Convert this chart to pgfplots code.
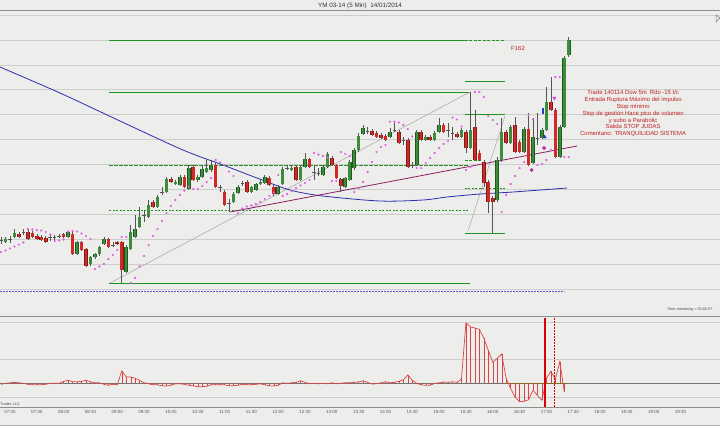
\documentclass[border=0pt]{standalone}
\usepackage{pgfplots}
\pgfplotsset{compat=1.18}
\usepackage{pgfplotstable}
\usepackage{fontspec}
\setmainfont{Liberation Sans}

\definecolor{bg}{RGB}{237,237,235}
\definecolor{gridc}{RGB}{206,206,204}
\definecolor{upfill}{RGB}{60,140,60}
\definecolor{upline}{RGB}{30,90,30}
\definecolor{dnfill}{RGB}{210,40,40}
\definecolor{dnline}{RGB}{130,25,25}
\definecolor{wick}{RGB}{85,85,85}
\definecolor{sar}{RGB}{225,95,225}
\definecolor{lvl}{RGB}{35,145,35}
\definecolor{ma}{RGB}{45,45,175}
\definecolor{trend}{RGB}{140,30,100}
\definecolor{note}{RGB}{190,35,35}
\definecolor{osc}{RGB}{215,70,70}

% bars: i = 5-min bars since 07:00, prices (screen rows)
\pgfplotstableread{
i o h l c
-1 242 237 243 239
1 237 229 238 233
13 237 231 238 232
15 254 241 255 242
18 264 256 266 257
19 257 253 259 254
20 254 246 256 247
21 244 237 245 239
26 272 245 273 247
27 249 225 250 232
28 237 215 238 229
29 227 207 228 217
31 217 200 218 205
33 207 195 208 197
35 192 177 193 179
37 184 180 185 182
38 185 175 186 177
40 189 165 190 168
42 180 175 182 177
43 177 165 178 169
44 172 160 173 168
45 170 160 172 165
50 202 192 203 194
51 193 185 194 187
54 192 186 193 187
55 190 183 191 184
56 184 180 185 182
57 183 175 184 177
60 194 185 195 187
61 184 167 185 169
63 170 166 171 168
65 180 165 181 167
66 167 153 168 159
70 175 165 176 167
71 167 152 168 154
75 187 177 188 178
76 180 160 181 162
77 168 148 170 150
78 150 133 152 136
79 134 125 135 128
85 137 128 138 132
91 165 130 166 132
93 140 135 141 137
95 140 131 141 133
96 132 118 133 125
101 137 128 138 130
103 148 92 149 130
109 200 157 202 160
110 160 118 162 132
112 143 125 144 127
115 152 127 153 129
117 163 118 164 137
119 138 128 139 130
120 130 87 131 102
123 157 125 158 127
124 127 56 128 58
125 55 37 57 40
}\upbars

\pgfplotstableread{
i o h l c
2 234 232 238 237
4 232 230 240 239
5 233 231 238 237
6 236 234 240 239
7 237 235 241 240
8 238 236 243 242
12 234 233 238 237
14 234 232 255 254
16 242 241 251 250
17 249 248 267 266
22 239 238 248 247
24 242 241 245 243.5
25 242 241 283 270
32 202 200 208 207
36 179 177 183 182
39 177 175 188 187
41 167 165 181 180
46 165 163 188 187
48 192 190 206 205
53 182 180 193 192
58 178 176 186 185
59 187 185 196 194
64 167 166 181 180
67 159 158 168 167
72 158 156 166 165
73 165 164 179 178
74 179 178 192 186
81 131 129 136 135
82 133 131 138 137
83 135 133 139 138
84 136 134 141 140
87 132 130 144 143
89 140 138 168 167
92 132 130 141 140
94 137 135 141 140
97 125 123 133 132
100 134 132 138 137
102 132 130 153 148
104 127 110 161 160
105 153 150 161 160
106 162 160 187 183
107 182 180 213 202
108 198 196 233 202
111 132 130 144 143
113 125 117 153 152
114 142 140 153 152
116 129 113 166 165
121 102 77 111 110
122 110 108 158 157
}\dnbars

\pgfplotstableread{
i o h l
-2 240.5 237 244
0 239 236 243
3 232 229 235
9 237 234 241
10 237 235 241
11 236 234 238
23 245 242 247
30 215 210 222
34 192 187 195
47 187 185 192
49 203 199 212
52 183 181 186
62 168 166 170
68 172 165 180
69 173 168 176
80 131 127 134
86 130 122 132
88 140 137 145
90 165 162 168
98 130 123 137
99 133 127 140
118 138 113 145
}\dojis

% parabolic SAR
\pgfplotstableread{
i y
-2 252
-1 250.5
0 248.5
1 246.5
2 244.5
3 242.5
4 229
5 229.5
6 230
7 230.5
8 232
9 234.5
10 241
11 240.5
12 239.5
13 231.5
14 231
15 231.5
16 233.5
17 236
18 239
19 269
20 266.5
21 264
22 259
23 255
24 250
25 237
26 237
27 283
28 278
29 266.5
30 256
31 245
32 236
33 229
34 221
35 213
36 206
37 200
38 195
39 190.5
40 186.5
41 189
42 189
43 186
44 182
45 178
46 160
47 162.5
48 165
49 171.5
50 176
51 213
52 208.5
53 206.5
54 205.5
55 204
56 202
57 199
58 196
59 192.5
60 175
61 196
62 194
63 191
64 188
65 185.5
66 183
67 180
68 153
69 154.5
70 156
71 157.5
72 181
73 181
74 152
75 154
76 156
77 192
78 188
79 182
80 172
81 162
82 152
83 147
84 145
85 121.7
86 121.7
87 122.5
88 125
89 129
90 136.5
91 168
92 168
93 163
94 158
95 153
96 148
97 144
98 141
99 117.5
100 119.5
101 126.5
102 170
103 167
104 92
105 92
106 97
107 116
108 120
109 124
110 212
111 195
112 184
113 176
114 168
115 162
116 115
117 119.5
118 165
119 164
120 160
121 150
122 77
123 77
124 157
125 157
}\sar

% lower panel oscillator
\pgfplotstableread{
i v
-2 -1
-1 0
0 0.5
1 1
2 0.5
3 0
4 -1
5 -1.5
6 -1.5
7 -1.5
8 -1
9 0
10 0
11 0
12 2
13 3
14 1.5
15 1.5
16 2
17 3
18 1.5
19 0.5
20 0.5
21 -1
22 -2
23 -1
24 -1.5
25 12.3
26 6.5
27 6.3
28 5
29 3
30 0.5
31 -0.5
32 -1.5
33 -1.5
34 -2.5
35 -2.7
36 -2
37 -0.5
38 -0.5
39 -1
40 -2
41 -2.5
42 -3.4
43 -3.4
44 -3
45 -1.5
46 -1.5
47 -1.5
48 -1.5
49 -2.5
50 -2.5
51 -2
52 -1
53 -1.5
54 -1.5
55 -1
56 -0.5
57 -1.5
58 -2.5
59 -2.7
60 -2
61 0.5
62 0
63 0.5
64 1
65 2.5
66 1
67 -0.5
68 0
69 -0.5
70 0
71 -0.5
72 0.5
73 -0.5
74 0
75 0.5
76 0.5
77 1
78 1.5
79 2.5
80 1
81 -0.7
82 -0.5
83 0.5
84 1.6
85 0.5
86 1
87 2
88 3.5
89 8.3
90 3
91 0
92 -1.5
93 -2
94 -2
95 0
96 0.5
97 1.3
98 1
99 1.5
100 1
101 4.3
102 60.6
103 56.5
104 55.3
105 54
106 45
107 33
108 21
109 25
110 29.3
111 5
112 -5
113 -14
114 -18.4
115 -18
116 -16.5
117 -7
118 -12
119 -17
120 5
121 12
122 4
123 21.6
124 -8.4
}\osc

\begin{document}
\begin{tikzpicture}[x=1pt,y=1pt]
\fill[bg] (0,0) rectangle (720,-426);
\path[use as bounding box] (0,0) rectangle (720,-426);
% horizontal grid of both panels
\foreach \g in {15,39.9,64.8,89.7,114.6,139.5,164.4,189.3,214.2,239.1,264,288.9,322,359,397}
  \draw[gridc, line width=0.6pt] (0,-\g) -- (720,-\g);
\node[font=\fontsize{6.3}{7}\selectfont, text=black!80] at (360,-5.5) {YM 03-14 (5 Min)\ \ 14/01/2014};

\begin{axis}[
  at={(0pt,-10.7pt)}, anchor=north west,
  width=720pt, height=305.3pt, scale only axis,
  xmin=-2.237, xmax=158.84,
  ymin=10.7, ymax=316, y dir=reverse,
  axis line style={draw=none},
  xtick=\empty, ytick=\empty,
]
% fib levels
\addplot[lvl, line width=0.9pt, forget plot] coordinates {(22.15,40) (101.79,40)};
\addplot[lvl, line width=1.1pt, dash pattern=on 3pt off 1.5pt, forget plot] coordinates {(101.79,40.8) (110.74,40.8)};
\addplot[lvl, line width=0.9pt, forget plot] coordinates {(22.15,92) (102.9,92)};
\addplot[lvl, line width=0.9pt, forget plot] coordinates {(101.79,81.7) (110.74,81.7)};
\addplot[lvl, line width=0.9pt, forget plot] coordinates {(101.79,114.5) (110.74,114.5)};
\addplot[lvl, line width=1.2pt, dash pattern=on 3.5pt off 1.5pt, forget plot] coordinates {(22.15,165.5) (102.5,165.5)};
\addplot[lvl, line width=1pt, dash pattern=on 3pt off 1.5pt, forget plot] coordinates {(101.79,160) (105.5,160)};
\addplot[lvl, line width=0.9pt, dash pattern=on 2pt off 1.5pt, forget plot] coordinates {(22.15,210.5) (102.5,210.5)};
\addplot[lvl, line width=0.9pt, dash pattern=on 2pt off 1.5pt, forget plot] coordinates {(101.79,188) (110.74,188)};
\addplot[lvl, line width=0.9pt, forget plot] coordinates {(22.15,283) (102.9,283)};
\addplot[lvl, line width=0.9pt, forget plot] coordinates {(101.79,233) (110.74,233)};
\addplot[ma!80, line width=0.7pt, dash pattern=on 2pt off 1pt, forget plot] coordinates {(-2.24,291) (123.94,291)};
% thin guide lines
\addplot[black!35, line width=0.5pt, forget plot] coordinates {(22.37,283) (102.91,92)};
\addplot[black!35, line width=0.5pt, forget plot] coordinates {(102.46,231) (110.74,116)};
% moving average and trend line
\addplot[ma, line width=0.8pt, smooth, forget plot] coordinates {
 (-2.24,67) (11.19,93) (24.61,121) (38.70,150) (47.65,165) (55.26,178)
 (62.64,190) (70.02,196) (82.77,201) (92.39,200) (97.76,197) (105.15,194)
 (112.53,192) (124.61,188)};
\addplot[trend, line width=0.8pt, forget plot] coordinates {(49.22,212) (126.85,146)};
% wicks
\pgfplotsset{wk/.style={only marks, mark=*, mark size=0pt, mark options={draw=none, fill=none}, forget plot, error bars/.cd, y dir=plus, y explicit, error mark=none, error bar style={draw=wick, line width=0.6pt}}}
\addplot[wk] table[x=i, y=h, y error plus expr={\thisrow{l}-\thisrow{h}}] {\upbars};
\addplot[wk] table[x=i, y=h, y error plus expr={\thisrow{l}-\thisrow{h}}] {\dnbars};
\addplot[wk] table[x=i, y=h, y error plus expr={\thisrow{l}-\thisrow{h}}] {\dojis};
% bodies
\pgfplotsset{bd/.style 2 args={only marks, mark=*, mark size=0pt, mark options={draw=none, fill=none}, forget plot, error bars/.cd, y dir=plus, y explicit, error mark=none, error bar style={draw=#1, line width=#2}}}
\addplot[bd={upline}{3.6pt}] table[x=i, y expr={min(\thisrow{o},\thisrow{c})}, y error plus expr={abs(\thisrow{c}-\thisrow{o})}] {\upbars};
\addplot[bd={upfill}{2.5pt}] table[x=i, y expr={min(\thisrow{o},\thisrow{c})+0.4}, y error plus expr={abs(\thisrow{c}-\thisrow{o})-0.8}] {\upbars};
\addplot[bd={dnline}{3.6pt}] table[x=i, y expr={min(\thisrow{o},\thisrow{c})}, y error plus expr={abs(\thisrow{c}-\thisrow{o})}] {\dnbars};
\addplot[bd={dnfill}{2.5pt}] table[x=i, y expr={min(\thisrow{o},\thisrow{c})+0.4}, y error plus expr={abs(\thisrow{c}-\thisrow{o})-0.8}] {\dnbars};
\addplot[only marks, mark=-, mark size=1.8pt, mark options={draw=wick, line width=0.8pt}, forget plot] table[x=i, y=o] {\dojis};
% parabolic SAR dots
\addplot[only marks, mark=*, mark size=0.9pt, sar, forget plot] table[x=i, y=y] {\sar};
% signals
\addplot[only marks, mark=*, mark size=1.7pt, color={rgb,255:red,190;green,40;blue,170}, forget plot] coordinates {(116.7,170) (119.5,148)};
\addplot[only marks, mark=triangle*, mark size=2pt, mark options={rotate=180}, color={rgb,255:red,230;green,60;blue,230}, forget plot] coordinates {(121.8,98)};
\addplot[only marks, mark=triangle*, mark size=2pt, color={rgb,255:red,40;green,60;blue,200}, forget plot] coordinates {(119.6,137)};
\addplot[only marks, mark=|, mark size=3pt, mark options={line width=1.6pt}, color={rgb,255:red,40;green,60;blue,200}, forget plot] coordinates {(119.3,111)};
% notes
\node[text=note, font=\fontsize{6}{7}\selectfont] at (axis cs:113.65,48) {F162};
\node[text=note, align=center, font=\fontsize{5.9}{6.95}\selectfont] at (axis cs:139.4,113.5)
  {Trade 140114 Dow 5m\ \ Rdo -15 t/c\\Entrada Ruptura Máximo del impulso\\Stop mínimo\\Stop de gestión Hace pico de volumen\\y subo a Parabolic\\Salida STOP JUDAS\\Comentario: TRANQUILIDAD SISTEMA};
\end{axis}

\begin{axis}[
  at={(0pt,-316pt)}, anchor=north west,
  width=720pt, height=91pt, scale only axis,
  xmin=-2.237, xmax=158.84, ymin=-23.7, ymax=67.3,
  axis line style={draw=none},
  xtick={0,6,...,150},
  xticklabels={07:00,07:30,08:00,08:30,09:00,09:30,10:00,10:30,11:00,11:30,12:00,12:30,13:00,13:30,14:00,14:30,15:00,15:30,16:00,16:30,17:00,17:30,18:00,18:30,19:00,19:30},
  xticklabel style={font=\fontsize{4.5}{5}\selectfont, text=black!65, inner sep=0pt, anchor=north, yshift=-3pt},
  ytick=\empty,
  major tick length=0pt,
]
\draw[black!55, line width=0.7pt] (axis cs:-2.237,0) -- (axis cs:158.84,0);
\draw[olive!80!black, line width=0.7pt] (axis cs:110.7,0) -- (axis cs:124.6,0);
\addplot[osc, line width=0.35pt, ycomb, forget plot] table[x=i, y=v] {\osc};
\addplot[osc, line width=0.7pt, forget plot] table[x=i, y=v] {\osc};
\draw[red!85!black, line width=1.3pt] (axis cs:119.69,-23.7) -- (axis cs:119.69,65.5);
\draw[red!85!black, line width=0.8pt, dash pattern=on 2pt off 1pt] (axis cs:121.7,-23.7) -- (axis cs:121.7,65.5);
\end{axis}

\draw[black!45, line width=0.8pt] (0,-10.7) -- (720,-10.7);
\draw[black!45, line width=0.8pt] (0,-316) -- (720,-316);
\draw[black!45, line width=0.8pt] (0,-407) -- (720,-407);
\draw[black!30, line width=0.8pt] (0,-425) -- (720,-425);
\node[anchor=west, font=\fontsize{3.8}{4}\selectfont, text=black!70, inner sep=0pt] at (667,-310) {Time remaining = 00:02:57};
\node[anchor=west, font=\fontsize{3.8}{4}\selectfont, text=black!70, inner sep=0pt] at (0,-404) {Trader, LLC};
\draw[black!50, line width=0.5pt] (716,-15) -- (720,-18) -- (716,-22) -- cycle;
\end{tikzpicture}
\end{document}
